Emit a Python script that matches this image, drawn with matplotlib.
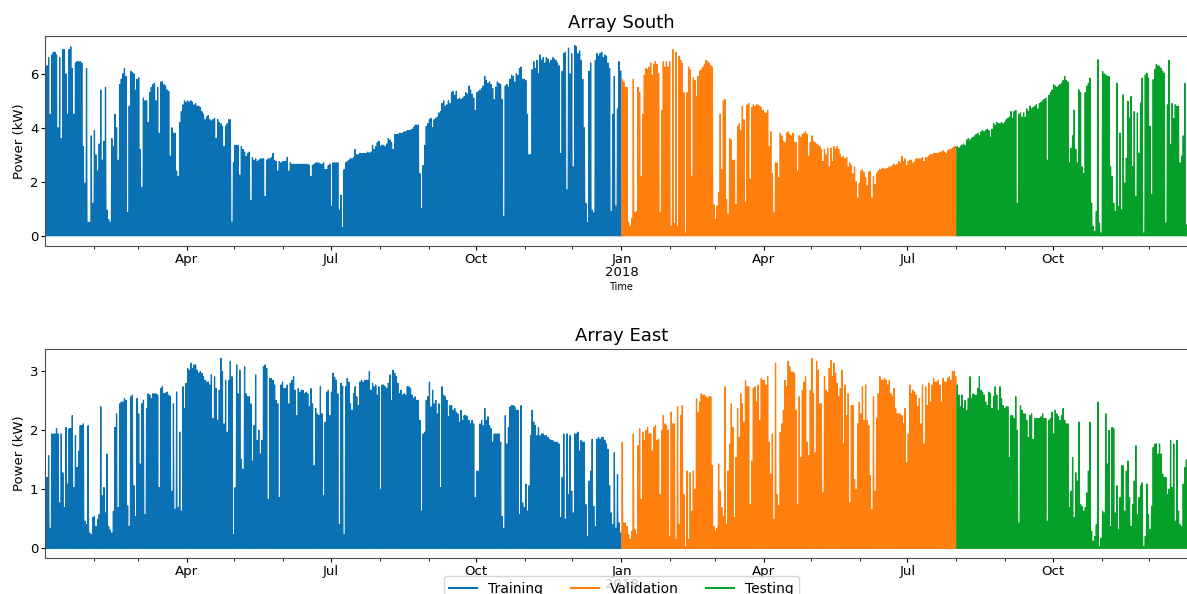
import matplotlib
matplotlib.use("Agg")
import matplotlib.pyplot as plt
import matplotlib.dates as mdates
from matplotlib.lines import Line2D
import numpy as np
import pandas as pd

# daily peak power (kW), one value per day
south_2017 = [
    5.5, 6.3, 6.6, 4.5, 6.7, 6.8, 6.8, 6.7, 4.0, 6.6,
    3.6, 6.9, 6.9, 6.0, 4.5, 6.9, 7.0, 6.2, 4.5, 6.4,
    6.45, 6.45, 6.45, 6.4, 3.3, 1.95, 6.2, 0.5, 0.5, 3.7,
    1.2, 3.9, 3.0, 2.4, 3.4, 5.4, 2.8, 3.5, 5.5, 0.95,
    0.6, 0.5, 3.6, 3.3, 4.5, 4.0, 2.8, 5.6, 5.8, 6.0,
    6.2, 5.9, 0.85, 4.8, 6.1, 6.05, 6.0, 5.4, 5.8, 5.85,
    3.2, 1.8, 5.1, 5.0, 5.0, 4.2, 5.3, 5.5, 5.6, 5.65,
    5.0, 5.5, 3.8, 5.7, 5.7, 5.6, 5.55, 5.4, 5.35, 2.95,
    4.0, 3.8, 3.8, 2.4, 2.2, 4.2, 4.6, 4.85, 5.0, 4.95,
    5.0, 4.95, 5.0, 4.95, 4.85, 4.9, 4.8, 4.8, 4.75, 4.6,
    4.5, 4.3, 4.4, 4.45, 4.3, 4.25, 4.3, 4.35, 3.6, 4.3,
    4.2, 4.15, 4.05, 3.3, 4.05, 4.15, 4.3, 4.3, 0.5, 2.7,
    3.35, 3.35, 3.35, 2.25, 3.3, 3.2, 3.1, 2.95, 3.05, 3.1,
    1.3, 2.9, 2.8, 2.85, 2.75, 2.8, 2.85, 2.85, 2.85, 1.45,
    2.8, 2.85, 2.85, 2.9, 3.05, 2.8, 2.75, 2.4, 2.75, 2.7,
    2.75, 2.75, 2.75, 2.9, 2.4, 2.7, 2.65, 2.65, 2.65, 2.65,
    2.65, 2.65, 2.65, 2.65, 2.65, 2.65, 2.65, 2.6, 2.2, 2.6,
    2.65, 2.7, 2.7, 2.7, 2.65, 2.65, 2.7, 2.45, 2.45, 2.6,
    2.65, 1.1, 2.7, 2.7, 2.7, 2.7, 0.95, 1.5, 0.3, 2.45,
    2.7, 2.75, 2.8, 2.85, 2.85, 2.9, 3.2, 3.0, 3.0, 3.05,
    3.05, 3.05, 3.05, 3.05, 3.1, 3.05, 3.1, 3.35, 3.2, 3.3,
    3.45, 3.5, 3.3, 3.35, 3.35, 3.3, 3.4, 3.6, 3.55, 3.45,
    3.2, 3.75, 3.75, 3.75, 3.8, 3.8, 3.8, 3.85, 3.85, 3.9,
    3.9, 3.9, 3.95, 4.0, 4.1, 4.1, 4.1, 2.3, 1.0, 2.6,
    3.35, 4.05, 4.15, 4.3, 4.35, 4.0, 4.3, 4.35, 4.4, 4.55,
    4.6, 4.9, 5.0, 4.8, 4.85, 5.0, 4.9, 5.3, 5.35, 5.2,
    5.35, 5.05, 5.1, 5.05, 5.1, 5.15, 5.3, 5.25, 5.55, 5.4,
    5.25, 5.1, 4.65, 5.3, 5.35, 5.4, 5.45, 5.55, 5.9, 5.75,
    5.65, 5.7, 5.6, 5.45, 5.05, 5.5, 5.7, 5.65, 5.6, 5.05,
    0.7, 5.55, 5.6, 5.5, 5.8, 5.95, 5.9, 5.7, 6.0, 5.95,
    6.2, 6.25, 5.8, 5.8, 5.75, 4.5, 3.0, 3.0, 6.15, 6.45,
    6.2, 6.5, 6.0, 6.7, 6.5, 6.6, 6.4, 6.6, 6.55, 6.4,
    6.5, 6.6, 6.55, 6.5, 6.4, 6.3, 3.05, 6.1, 6.75, 6.8,
    1.7, 6.95, 6.0, 6.75, 2.55, 7.05, 7.0, 6.75, 6.85, 6.5,
    5.8, 4.0, 1.2, 0.5, 6.1, 6.4, 0.95, 0.85, 6.5, 6.75,
    6.65, 6.75, 6.8, 6.6, 6.7, 6.65, 6.4, 6.2, 0.9, 4.5,
    5.9, 1.1, 4.7, 6.45, 6.1,
]

south_2018 = [
    5.8, 5.7, 5.5, 5.5, 0.5, 0.35, 0.65, 5.8, 0.85, 0.9,
    5.5, 5.3, 2.2, 4.5, 5.95, 6.2, 6.15, 6.25, 6.4, 5.95,
    6.35, 6.45, 6.35, 6.0, 0.85, 4.65, 6.45, 6.25, 6.45, 6.25,
    6.45, 0.35, 6.9, 0.45, 6.8, 0.35, 6.65, 6.5, 6.4, 5.3,
    0.1, 5.3, 6.25, 6.15, 2.2, 5.85, 5.75, 5.15, 5.9, 6.1,
    6.15, 6.25, 6.35, 6.5, 6.45, 6.4, 6.3, 6.25, 1.15, 0.6,
    1.1, 1.6, 4.5, 2.45, 5.0, 5.05, 1.35, 0.8, 3.6, 3.55,
    2.8, 2.8, 1.15, 4.05, 4.15, 3.9, 4.8, 4.3, 1.25, 4.85,
    4.9, 2.1, 4.75, 4.85, 4.8, 4.85, 4.85, 4.8, 4.75, 4.65,
    4.55, 4.55, 4.65, 3.3, 3.85, 2.3, 0.85, 2.7, 2.7, 2.15,
    3.8, 3.7, 3.5, 3.45, 3.8, 3.85, 3.75, 3.7, 3.8, 3.45,
    3.45, 2.4, 3.7, 3.65, 3.75, 3.8, 3.85, 3.75, 2.95, 3.45,
    3.7, 3.5, 3.45, 3.4, 3.35, 3.3, 3.2, 2.75, 3.2, 3.0,
    3.25, 2.55, 3.25, 2.75, 3.3, 3.2, 3.3, 3.2, 3.0, 2.9,
    2.95, 2.85, 2.9, 2.55, 2.7, 2.6, 2.3, 2.55, 2.0, 1.4,
    1.95, 2.4, 2.45, 2.35, 2.15, 1.85, 2.35, 2.4, 1.4, 2.2,
    1.9, 2.3, 2.4, 2.45, 2.45, 2.5, 2.45, 2.5, 2.5, 2.55,
    2.55, 2.6, 2.65, 2.6, 2.65, 2.75, 2.7, 2.95, 2.75, 2.85,
    2.6, 2.75, 2.8, 2.8, 2.7, 2.75, 2.85, 2.85, 2.85, 2.85,
    2.9, 2.75, 2.9, 2.9, 2.95, 3.0, 3.0, 3.05, 3.05, 3.05,
    3.05, 3.1, 3.1, 3.15, 3.1, 3.05, 3.15, 3.2, 3.2, 3.25,
    3.3, 3.3, 3.3, 3.25, 3.3, 3.35, 3.4, 3.35, 3.55, 3.6,
    3.55, 3.6, 3.65, 3.7, 3.75, 3.8, 3.7, 3.85, 3.9, 3.85,
    3.9, 3.95, 3.9, 3.65, 3.95, 4.15, 4.1, 4.2, 4.15, 4.15,
    4.2, 4.15, 4.2, 4.3, 4.35, 4.4, 4.6, 4.35, 4.6, 4.65,
    1.2, 4.5, 4.55, 4.4, 4.55, 4.4, 4.7, 4.6, 4.8, 4.7,
    4.75, 4.8, 4.85, 4.7, 4.9, 4.95, 5.0, 5.05, 5.1, 2.8,
    5.2, 5.3, 5.4, 5.6, 5.55, 5.5, 5.55, 5.6, 5.65, 5.75,
    5.9, 5.75, 5.7, 2.7, 3.25, 3.7, 4.65, 3.2, 2.7, 5.4,
    5.3, 2.55, 2.3, 5.3, 5.55, 5.65, 5.84, 1.21, 0.35, 0.16,
    0.9, 6.52, 0.47, 0.1, 6.09, 6.0, 5.96, 5.9, 5.9, 2.57,
    2.2, 1.21, 0.9, 5.65, 1.09, 3.8, 0.96, 5.22, 1.95, 2.88,
    4.98, 4.36, 5.16, 2.57, 4.6, 1.46, 4.54, 3.06, 4.91, 5.84,
    0.1, 5.96, 6.02, 5.84, 4.05, 1.52, 5.78, 6.15, 6.35, 6.3,
    6.27, 6.2, 6.09, 6.02, 0.47, 4.85, 6.5, 3.37, 4.9, 4.35,
    4.85, 4.8, 4.8, 2.7, 2.95, 3.7, 5.65, 0.4,
]

east_2017 = [
    0.37, 1.2, 1.57, 0.34, 1.94, 1.94, 1.94, 2.03, 1.94, 0.77,
    1.94, 1.28, 0.69, 2.05, 1.09, 2.03, 2.03, 2.25, 1.03, 1.91,
    1.37, 1.65, 2.08, 2.08, 2.11, 0.46, 0.40, 2.08, 0.26, 0.23,
    0.52, 0.54, 0.37, 0.49, 0.57, 2.4, 0.89, 1.03, 0.6, 1.6,
    0.37, 0.31, 0.26, 0.63, 2.05, 2.28, 0.69, 2.45, 2.48, 2.48,
    2.54, 2.51, 0.72, 0.37, 2.57, 2.6, 1.06, 0.54, 2.54, 2.28,
    1.43, 2.45, 2.51, 0.57, 2.37, 2.62, 2.6, 2.54, 2.62, 2.62,
    2.62, 2.6, 1.03, 2.71, 2.74, 2.63, 2.63, 2.65, 2.6, 2.57,
    0.97, 2.45, 0.66, 2.65, 0.69, 1.97, 0.63, 2.74, 2.37, 2.8,
    3.05, 3.02, 3.14, 3.05, 3.11, 3.11, 3.02, 2.97, 3.0, 2.97,
    2.91, 2.85, 2.82, 2.82, 2.77, 2.94, 2.2, 2.91, 2.71, 2.17,
    2.68, 3.22, 3.0, 2.11, 2.85, 1.97, 2.85, 3.17, 2.91, 0.23,
    1.03, 3.11, 2.62, 3.02, 1.51, 1.34, 3.08, 2.62, 2.57, 2.57,
    2.45, 1.48, 2.08, 2.94, 1.83, 2.0, 1.6, 1.83, 3.08, 3.11,
    3.05, 0.83, 2.88, 2.88, 2.85, 2.77, 2.51, 2.45, 0.86, 2.77,
    2.82, 2.71, 2.71, 2.77, 2.45, 2.8, 2.85, 2.91, 2.68, 2.25,
    2.71, 2.65, 2.68, 2.68, 2.62, 2.65, 2.62, 2.4, 2.71, 2.45,
    1.4, 2.37, 2.28, 2.25, 2.74, 2.28, 0.89, 2.14, 2.65, 2.68,
    2.25, 2.65, 2.97, 2.9, 2.85, 2.62, 0.4, 2.8, 2.75, 0.23,
    2.74, 2.88, 2.82, 2.45, 2.34, 2.62, 2.74, 2.57, 2.42, 2.82,
    2.85, 2.82, 2.85, 2.85, 2.85, 3.0, 2.68, 2.8, 2.74, 2.77,
    2.6, 2.74, 1.0, 2.77, 2.77, 2.74, 2.71, 2.8, 2.94, 2.51,
    3.02, 2.97, 2.91, 2.8, 2.62, 2.68, 2.6, 2.62, 2.6, 2.74,
    2.74, 2.71, 2.6, 2.54, 2.57, 2.51, 2.51, 2.17, 0.63, 1.94,
    1.97, 2.51, 2.57, 2.82, 2.4, 2.68, 2.45, 2.51, 2.28, 2.45,
    1.03, 2.74, 2.6, 2.57, 2.51, 2.23, 2.42, 2.42, 2.34, 2.37,
    2.31, 2.28, 2.14, 2.34, 2.17, 2.25, 2.25, 2.23, 2.17, 2.11,
    2.17, 2.11, 0.86, 1.31, 1.31, 2.11, 2.17, 2.08, 2.37, 2.17,
    2.23, 2.08, 2.03, 1.8, 1.94, 1.94, 1.94, 1.94, 1.8, 0.54,
    0.34, 2.25, 1.77, 2.05, 2.4, 2.42, 2.42, 2.4, 2.34, 2.34,
    0.57, 2.42, 0.77, 0.69, 1.09, 0.63, 1.06, 1.91, 2.34, 2.14,
    2.08, 1.91, 2.05, 1.91, 1.94, 1.94, 1.91, 1.91, 1.88, 1.85,
    1.83, 1.83, 1.8, 1.8, 1.8, 1.77, 0.52, 1.2, 1.94, 0.49,
    1.94, 0.91, 1.91, 0.97, 0.6, 1.94, 1.94, 1.97, 1.65, 1.83,
    1.8, 1.8, 0.74, 0.2, 1.14, 1.31, 1.85, 0.71, 0.37, 1.85,
    1.88, 1.85, 1.88, 1.88, 1.83, 1.77, 1.68, 1.06, 0.6, 0.4,
    1.62, 0.34, 1.25, 0.43, 0.26,
]

east_2018 = [
    1.8, 0.43, 0.43, 0.37, 0.23, 0.15, 0.29, 1.94, 0.32, 0.23,
    1.74, 2.03, 0.83, 1.97, 1.83, 2.0, 2.05, 1.94, 1.94, 1.65,
    2.05, 2.08, 1.83, 1.85, 0.91, 2.0, 2.25, 2.11, 2.08, 2.0,
    0.2, 2.31, 2.11, 2.11, 0.15, 2.4, 0.4, 2.25, 2.42, 0.91,
    0.03, 1.31, 0.15, 1.28, 0.63, 1.31, 1.0, 2.54, 2.31, 2.48,
    2.62, 2.6, 2.6, 2.57, 2.54, 2.57, 2.57, 1.4, 0.37, 0.29,
    0.34, 1.43, 0.97, 0.69, 0.54, 2.74, 0.4, 1.31, 1.77, 2.45,
    2.05, 0.52, 1.54, 2.37, 1.88, 2.62, 2.45, 2.14, 2.85, 2.74,
    2.74, 0.74, 1.48, 2.71, 2.74, 2.48, 2.77, 2.17, 2.88, 2.85,
    2.85, 2.77, 2.91, 1.8, 1.26, 1.94, 0.49, 3.14, 0.91, 0.72,
    1.97, 2.11, 2.34, 2.85, 2.74, 3.17, 3.08, 2.99, 2.99, 2.97,
    2.34, 0.74, 2.57, 1.54, 2.68, 2.82, 2.91, 1.8, 1.57, 2.68,
    3.22, 2.62, 1.62, 3.17, 3.02, 2.45, 2.45, 0.94, 2.91, 2.68,
    2.65, 3.05, 3.19, 2.91, 3.14, 2.97, 2.8, 2.57, 2.71, 3.02,
    1.77, 2.77, 2.25, 2.62, 0.77, 2.42, 2.42, 1.17, 1.0, 2.11,
    2.48, 2.28, 2.74, 2.17, 2.77, 2.17, 2.08, 1.23, 0.66, 2.57,
    0.97, 2.2, 2.62, 2.91, 2.85, 2.85, 2.88, 2.85, 2.77, 2.85,
    2.62, 2.57, 2.71, 2.37, 2.28, 2.28, 2.28, 2.25, 2.11, 2.37,
    1.45, 1.94, 2.77, 2.62, 2.68, 2.65, 2.6, 2.4, 2.54, 2.11,
    2.77, 1.77, 2.74, 2.42, 2.8, 2.48, 2.77, 2.88, 2.82, 2.82,
    2.85, 2.77, 2.48, 2.88, 2.82, 2.82, 2.88, 2.91, 2.85, 3.0,
    3.0, 2.91, 2.77, 2.6, 2.4, 2.6, 2.37, 2.51, 2.34, 2.54,
    2.91, 2.54, 2.62, 2.6, 2.6, 2.71, 2.91, 2.68, 2.65, 2.6,
    2.48, 2.42, 2.65, 2.62, 2.37, 2.57, 2.74, 2.6, 2.34, 2.74,
    2.54, 2.42, 2.37, 2.4, 2.4, 1.54, 2.25, 2.25, 2.2, 2.57,
    2.0, 0.43, 2.42, 2.34, 2.28, 2.28, 2.17, 1.88, 2.25, 2.28,
    1.85, 2.2, 2.2, 2.2, 2.2, 2.23, 2.28, 2.2, 2.2, 0.46,
    2.17, 2.2, 2.31, 1.94, 2.34, 2.28, 2.23, 2.17, 2.25, 2.37,
    2.17, 2.11, 2.11, 0.69, 0.97, 1.54, 0.52, 1.28, 1.14, 2.14,
    0.74, 0.71, 0.63, 0.69, 0.94, 1.31, 2.14, 0.29, 0.12, 0.2,
    0.4, 2.48, 0.03, 0.17, 0.63, 0.6, 2.28, 1.43, 2.0, 0.37,
    2.05, 2.03, 0.6, 1.06, 0.32, 0.86, 1.4, 1.4, 0.63, 1.31,
    1.48, 0.86, 0.37, 0.74, 1.14, 1.74, 0.57, 0.86, 1.06, 1.11,
    0.03, 0.2, 1.09, 0.57, 0.32, 0.71, 1.71, 1.77, 1.77, 1.6,
    1.77, 1.6, 1.26, 1.2, 1.2, 0.91, 1.0, 1.83, 1.03, 1.77,
    0.46, 1.83, 0.63, 0.4, 0.37, 1.09, 1.37, 1.5,
]

split_labels = ["Training", "Validation", "Testing"]
split_starts = ["2017-01-01", "2018-01-01", "2018-08-01"]
split_colors = ["#0a72b4", "#ff7f0e", "#05a02a"]


def daily_series(peaks, start):
    # each day: zero at dawn, the peak at noon, zero again at dusk
    days = pd.date_range(start, periods=len(peaks), freq="D")
    hours = pd.to_timedelta([5, 12, 19], unit="h")
    times = (days.values[:, None] + hours.values[None, :]).ravel()
    power = np.column_stack([np.zeros(len(peaks)), peaks,
                             np.zeros(len(peaks))]).ravel()
    return pd.Series(power, index=pd.DatetimeIndex(times, name="Time"))


def month_label(x, pos=None):
    d = mdates.num2date(x)
    return d.strftime("%b\n%Y") if d.month == 1 else d.strftime("%b")


def draw_array(ax, series, title, ylim, yticks):
    bounds = [pd.Timestamp(s) for s in split_starts] + [pd.Timestamp("2019-01-01")]
    for i, color in enumerate(split_colors):
        part = series[(series.index >= bounds[i]) & (series.index < bounds[i + 1])]
        ax.plot(part.index, part.values, color=color, lw=0.9)
    ax.set_title(title, fontsize=13)
    ax.set_ylabel("Power (kW)", fontsize=9.5, labelpad=3)
    ax.set_xlabel("Time", fontsize=7, labelpad=2)
    ax.set_xlim(pd.Timestamp("2017-01-01 05:00"), pd.Timestamp("2018-12-31 19:00"))
    ax.set_ylim(*ylim)
    ax.set_yticks(yticks)
    ax.xaxis.set_major_locator(mdates.MonthLocator(bymonth=[1, 4, 7, 10]))
    ax.xaxis.set_minor_locator(mdates.MonthLocator())
    ax.xaxis.set_major_formatter(plt.FuncFormatter(month_label))
    ax.tick_params(which="major", labelsize=9.5, length=3, pad=1.8)
    ax.tick_params(axis="x", which="minor", length=2)
    for lbl in ax.get_xticklabels():
        lbl.set_ha("center")
        lbl.set_linespacing(1.05)
    for sp in ax.spines.values():
        sp.set_color("0.3")


south = pd.concat([daily_series(south_2017, "2017-01-01"),
                   daily_series(south_2018, "2018-01-01")])
east = pd.concat([daily_series(east_2017, "2017-01-01"),
                  daily_series(east_2018, "2018-01-01")])

fig = plt.figure(figsize=(11.87, 5.94), dpi=100)
ax_south = fig.add_axes([0.0379, 0.5859, 0.9713, 0.3535])
ax_east = fig.add_axes([0.0379, 0.0606, 0.9713, 0.3519])

draw_array(ax_south, south, "Array South", (-0.38, 7.4), [0, 2, 4, 6])
draw_array(ax_east, east, "Array East", (-0.165, 3.38), [0, 1, 2, 3])

handles = [Line2D([], [], color=c, lw=1.5) for c in split_colors]
fig.legend(handles, split_labels, loc="upper center", ncol=3, fontsize=10,
           bbox_to_anchor=(0.5236, 0.042), columnspacing=2.0)

fig.savefig("out.png", dpi=100)
